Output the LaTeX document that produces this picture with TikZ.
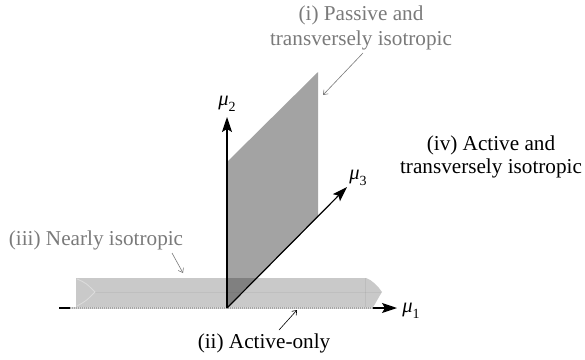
\documentclass[tikz,border=0pt]{standalone}
\usepackage{fontspec}
\setmainfont{Liberation Serif}
\usetikzlibrary{arrows.meta}
\definecolor{labgray}{HTML}{7A7A7A}
\begin{document}
\begin{tikzpicture}[x=1pt,y=-1pt,
  axis/.style={line width=1.2pt,-{Stealth[length=15pt,width=10pt,inset=3pt]}},
  lbl/.style={font=\fontsize{21.2}{23.5}\selectfont, inner sep=0pt, align=center},
  graylbl/.style={lbl, text=labgray},
  mulbl/.style={font=\fontsize{20.5}{24}\selectfont, inner sep=0pt},
  ptr/.style={line width=0.6pt, -{Straight Barb[length=4pt,width=6pt]}},
  dotbase/.style={line width=2pt, gray!30},
  dotaxis/.style={line width=2pt, gray!70, dash pattern=on 1pt off 1pt}
]
\useasboundingbox (0,0) rectangle (585,359);
% coordinates
\coordinate (O) at (227,308);
\coordinate (x1s) at (59,308);
\coordinate (x1e) at (397,308);
\coordinate (x2e) at (227,117);
\coordinate (x3e) at (347,187);
\coordinate (ds) at (70,308);
\coordinate (de) at (373,308);
% band (iii)
\fill[black, fill opacity=0.21] (76,278) -- (366,278) .. controls (372,280) and (378,286) .. (382,292)
  .. controls (378,298) and (376,303) .. (373,307) -- (76,307) -- cycle;
\draw[black, opacity=0.05, line width=1pt] (95,292) -- (381,292);
\draw[black, opacity=0.06, line width=1pt] (365,278) -- (365,307);
\draw[white, opacity=0.35, line width=0.8pt] (77,279) .. controls (86,283) .. (95,292) .. controls (86,301) .. (77,306);
% plane (i)
\fill[black, fill opacity=0.36] (O) -- (227,162) -- (318,72) -- (318,217) -- cycle;
% axes
\draw[axis] (x1s) -- (x1e);
\draw[dotbase] (ds) -- (de);
\draw[dotaxis] (ds) -- (de);
\draw[axis] (O) -- (x2e);
\draw[axis] (O) -- (x3e);
% axis labels
\node[mulbl] (m1) at (411,311) {\itshape μ\upshape\raisebox{-0.28em}{\fontsize{14}{14}\selectfont 1}};
\node[mulbl] (m2) at (227,104) {\itshape μ\upshape\raisebox{-0.28em}{\fontsize{14}{14}\selectfont 2}};
\node[mulbl] (m3) at (358,178) {\itshape μ\upshape\raisebox{-0.28em}{\fontsize{14}{14}\selectfont 3}};
% region labels
\node[graylbl, font=\fontsize{21.2}{25}\selectfont] (li) at (361,27.5) {(i) Passive and\\transversely isotropic};
\node[lbl] (lii) at (264,343) {(ii) Active-only};
\node[graylbl] (liii) at (96,240) {(iii) Nearly isotropic};
\node[lbl] (liv) at (491,157) {(iv) Active and\\transversely isotropic};
% pointers
\coordinate (ai) at (363,53);  \coordinate (bi) at (323,95);
\coordinate (aii) at (279,330); \coordinate (bii) at (297,310);
\coordinate (aiii) at (172,253); \coordinate (biii) at (183,273);
\draw[ptr, labgray] (ai) -- (bi);
\draw[ptr, black] (aii) -- (bii);
\draw[ptr, labgray] (aiii) -- (biii);
\end{tikzpicture}
\end{document}
